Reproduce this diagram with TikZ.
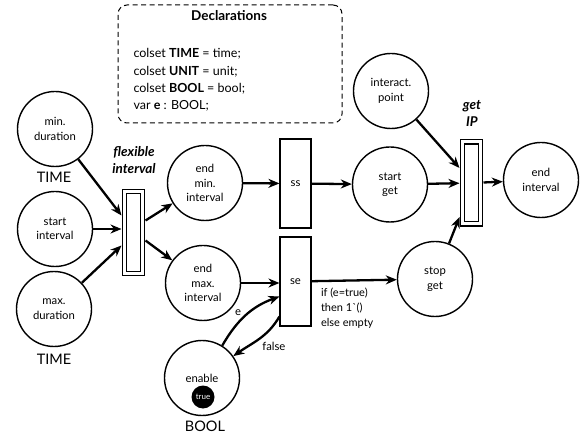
\documentclass[tikz,border=0pt]{standalone}
\usepackage{fontspec}
\setmainfont{Lato}
\usetikzlibrary{arrows.meta}

\begin{document}
\begin{tikzpicture}[x=1pt, y=1pt,
      every node/.style={font=\fontsize{11.3}{14.5}\selectfont},
      place/.style={circle, draw, line width=1.4pt, minimum size=75pt, inner sep=0pt, align=center},
      trans/.style={rectangle, draw, line width=1.1pt, minimum width=31pt, minimum height=89pt, inner sep=0pt},
      subtrans/.style={rectangle, draw, double, line width=1.1pt, double distance=3pt, minimum width=18pt, minimum height=82pt, inner sep=0pt, outer sep=3pt},
      arc/.style={-{Stealth[length=11pt, width=9pt, inset=3.5pt]}, line width=2.3pt},
      colset/.style={font=\fontsize{14.5}{16}\selectfont},
      tname/.style={font=\fontsize{13.5}{17}\selectfont\bfseries\itshape, align=center}]
      \useasboundingbox (0,0) rectangle (583,439);

      % Declarations
      \node[draw, dash pattern=on 5pt off 3.5pt, line width=1pt, rounded corners=9pt, minimum width=224pt, minimum height=118pt] (decl) at (230,375) {};
      \node[font=\fontsize{13.5}{16}\selectfont\bfseries] (decltitle) at (229,423) {Declarations};
      \node[anchor=west, align=left, font=\fontsize{12.5}{17.3}\selectfont] (decltext) at (130,359) {colset \textbf{TIME} = time;\\colset \textbf{UNIT} = unit;\\colset \textbf{BOOL} = bool;\\var \textbf{e} : BOOL;};

      % Places
      \node[place] (mindur) at (55,310) {min.\\duration};
      \node[colset] (time1) at (54,262) {TIME};
      \node[place] (startint) at (55,210) {start\\interval};
      \node[place] (maxdur) at (54,130) {max.\\duration};
      \node[colset] (time2) at (54,80) {TIME};
      \node[place] (endmin) at (205,256) {end\\min.\\interval};
      \node[place] (endmax) at (203,156) {end\\max.\\interval};
      \node[place] (enable) at (202,61) {enable};
      \node[circle, fill=black, minimum size=23pt, inner sep=0pt, text=white, font=\fontsize{8}{9}\selectfont] (token) at (203,42) {true};
      \node[colset] (bool) at (205,13) {BOOL};
      \node[place] (startget) at (390,254.5) {start\\get};
      \node[place] (interact) at (391,348) {interact.\\point};
      \node[place] (stopget) at (435,160) {stop\\get};
      \node[place] (endint) at (541,259) {end\\interval};

      % Transitions
      \node[subtrans] (flex) at (133.5,206.5) {};
      \node[tname] (flexname) at (134,279) {flexible\\interval};
      \node[trans] (ss) at (295.5,255.5) {ss};
      \node[trans] (se) at (295.5,157.5) {se};
      \node[subtrans] (getip) at (471.5,256) {};
      \node[tname] (getipname) at (472,326) {get\\IP};

      % Arcs
      \draw[arc] (mindur) -- ([yshift=17pt]flex.west);
      \draw[arc] (startint) -- (flex.west |- startint);
      \draw[arc] (maxdur) -- ([yshift=-13pt]flex.west);
      \draw[arc] ([yshift=12pt]flex.east) -- (endmin);
      \draw[arc] ([yshift=-8pt]flex.east) -- (endmax);
      \draw[arc] (endmin) -- (ss);
      \draw[arc] (endmax) -- (endmax -| se.west);
      \draw[arc] (ss) -- (startget);
      \draw[arc] (startget) -- (getip);
      \draw[arc] (interact) -- ([yshift=15pt]getip.west);
      \draw[arc] (stopget) -- ([yshift=10pt]getip.south west);
      \draw[arc] (getip) -- (endint);
      \draw[arc] (se) -- (stopget)
            node[pos=0, anchor=north west, align=left, xshift=5pt, yshift=-2pt, font=\fontsize{11}{15}\selectfont] (guard) {if (e=true)\\then 1\textasciigrave()\\else empty};
      \draw[arc] (enable.58) to[out=60, in=200] node[pos=0.45, above left, inner sep=1pt] (elabel) {e} ([yshift=-15pt]se.west);
      \draw[arc] ([yshift=-35pt]se.west) to[out=240, in=35] node[pos=0.5, below right, inner sep=2pt] (flabel) {false} (enable.35);
\end{tikzpicture}
\end{document}
